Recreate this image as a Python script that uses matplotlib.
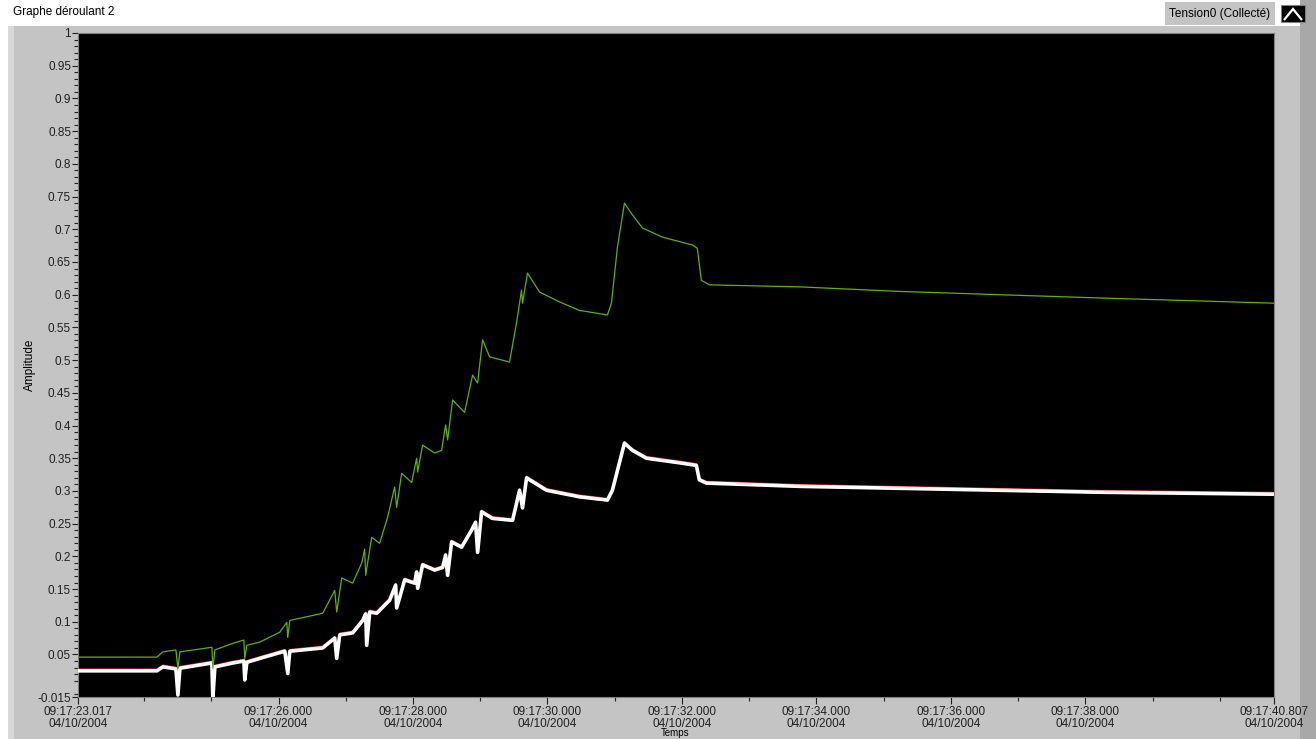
import matplotlib
matplotlib.use("Agg")
import matplotlib.pyplot as plt
import matplotlib.transforms as mtransforms
from matplotlib.patches import Rectangle, Polygon

plt.rcParams['font.family'] = ['Liberation Sans', 'DejaVu Sans']

# temps en secondes depuis 09:17:23.017
t_debut = 23.017
t_fin = 40.807

vert_t = [0.000, 1.174, 1.263, 1.456, 1.486, 1.516, 1.991, 2.006, 2.036, 2.303,
          2.467, 2.481, 2.511, 2.704, 3.001, 3.106, 3.120, 3.150, 3.640, 3.819,
          3.848, 3.923, 4.086, 4.220, 4.264, 4.279, 4.368, 4.487, 4.606, 4.710,
          4.740, 4.814, 4.963, 5.037, 5.052, 5.126, 5.305, 5.409, 5.468, 5.498,
          5.572, 5.750, 5.869, 5.944, 6.018, 6.122, 6.419, 6.523, 6.597, 6.612,
          6.686, 6.865, 7.162, 7.459, 7.875, 7.935, 8.024, 8.128, 8.247, 8.395,
          8.692, 9.138, 9.212, 9.272, 9.391, 10.728, 12.214, 13.700, 15.186, 17.790]
vert_v = [0.046, 0.046, 0.054, 0.057, 0.029, 0.054, 0.061, 0.029, 0.057, 0.067,
          0.072, 0.044, 0.064, 0.069, 0.084, 0.099, 0.076, 0.102, 0.113, 0.148,
          0.115, 0.167, 0.159, 0.190, 0.211, 0.171, 0.229, 0.220, 0.260, 0.306,
          0.275, 0.327, 0.313, 0.350, 0.329, 0.370, 0.358, 0.362, 0.401, 0.378,
          0.439, 0.420, 0.477, 0.465, 0.531, 0.505, 0.497, 0.557, 0.607, 0.587,
          0.633, 0.604, 0.589, 0.576, 0.569, 0.587, 0.673, 0.740, 0.722, 0.702,
          0.688, 0.676, 0.671, 0.622, 0.615, 0.612, 0.605, 0.600, 0.595, 0.587]

blanc_t = [0.000, 1.174, 1.263, 1.456, 1.486, 1.516, 1.813, 1.991, 2.006, 2.036,
           2.303, 2.467, 2.481, 2.511, 2.704, 3.076, 3.120, 3.150, 3.640, 3.819,
           3.848, 3.893, 4.086, 4.235, 4.279, 4.294, 4.339, 4.443, 4.636, 4.725,
           4.740, 4.859, 5.007, 5.037, 5.052, 5.126, 5.305, 5.424, 5.468, 5.498,
           5.557, 5.706, 5.854, 5.914, 5.944, 6.003, 6.166, 6.464, 6.568, 6.612,
           6.672, 6.969, 7.459, 7.875, 7.949, 8.128, 8.247, 8.455, 8.945, 9.198,
           9.242, 9.346, 10.728, 12.214, 13.700, 15.186, 17.790]
blanc_v = [0.025, 0.025, 0.031, 0.028, -0.012, 0.029, 0.034, 0.037, -0.017, 0.031,
           0.037, 0.040, 0.011, 0.038, 0.044, 0.055, 0.021, 0.055, 0.060, 0.075,
           0.044, 0.080, 0.083, 0.102, 0.112, 0.064, 0.115, 0.113, 0.133, 0.156,
           0.121, 0.164, 0.159, 0.176, 0.151, 0.187, 0.179, 0.183, 0.202, 0.171,
           0.222, 0.214, 0.240, 0.252, 0.206, 0.268, 0.258, 0.255, 0.301, 0.274,
           0.320, 0.301, 0.291, 0.286, 0.301, 0.373, 0.362, 0.350, 0.343, 0.339,
           0.317, 0.312, 0.307, 0.304, 0.301, 0.298, 0.295]

# la voie rouge suit la blanche de très près
rouge_t = blanc_t
rouge_v = blanc_v

y_ticks = [-0.015, 0.05, 0.1, 0.15, 0.2, 0.25, 0.3, 0.35, 0.4, 0.45, 0.5,
           0.55, 0.6, 0.65, 0.7, 0.75, 0.8, 0.85, 0.9, 0.95, 1]
y_labels = ['-0.015', '0.05', '0.1', '0.15', '0.2', '0.25', '0.3', '0.35', '0.4',
            '0.45', '0.5', '0.55', '0.6', '0.65', '0.7', '0.75', '0.8', '0.85',
            '0.9', '0.95', '1']
x_ticks = [23.017, 26, 28, 30, 32, 34, 36, 38, 40.807]
x_labels = ['09:17:23.017', '09:17:26.000', '09:17:28.000', '09:17:30.000',
            '09:17:32.000', '09:17:34.000', '09:17:36.000', '09:17:38.000',
            '09:17:40.807']
date_txt = '04/10/2004'

fig = plt.figure(figsize=(13.16, 7.39), dpi=100)
fig.patch.set_facecolor('white')

def fond(x, y, w, h, couleur, z=-10, **kw):
    # rectangle en pixels depuis le coin haut-gauche
    fig.patches.append(Rectangle((x / 1316, 1 - (y + h) / 739), w / 1316, h / 739,
                                 transform=fig.transFigure, facecolor=couleur,
                                 zorder=z, **kw))

# panneau gris façon LabVIEW
fond(8, 26, 1292, 713, '#c4c4c4', edgecolor='none')
fond(8, 26, 6, 713, '#d8d8d8', edgecolor='none')
fond(1300, 0, 16, 739, '#a8a8a8', edgecolor='none')
fig.text(13/1316, 1 - 12/739, 'Graphe déroulant 2', fontsize=8.5, va='center', ha='left')

# légende en haut à droite
fond(1165, 2, 110, 23, '#c4c4c4', edgecolor='none')
fig.text(1220/1316, 1 - 14/739, 'Tension0 (Collecté)', fontsize=8.5, va='center', ha='center')
fond(1281, 5, 24, 17, 'black', z=1, edgecolor='#808080', lw=0.8)
fig.patches.append(Polygon([(1284/1316, 1 - 20/739), (1293/1316, 1 - 9/739), (1302/1316, 1 - 20/739)],
                           closed=False, fill=False, edgecolor='white', lw=1.6,
                           transform=fig.transFigure, zorder=2))

ax = fig.add_axes([78/1316, 1 - 697/739, 1196/1316, 664/739])
ax.set_facecolor('black')

red_tr = mtransforms.offset_copy(ax.transData, fig=fig, x=0, y=1.2, units='points')
ax.plot([t_debut + v for v in rouge_t], rouge_v, color='#e0302a', lw=1.0,
        transform=red_tr, zorder=2)
ax.plot([t_debut + v for v in blanc_t], blanc_v, color='white', lw=2.6, zorder=3)
ax.plot([t_debut + v for v in vert_t], vert_v, color='#62b000', lw=0.9, zorder=4)

ax.set_xlim(t_debut, t_fin)
ax.set_ylim(-0.015, 1)
ax.set_yticks(y_ticks)
ax.set_yticklabels(y_labels)
ax.set_yticks([i / 100 for i in range(-1, 101) if i % 5 != 0], minor=True)
ax.set_xticks(x_ticks)
ax.set_xticklabels([f'{l}\n{date_txt}' for l in x_labels])
ax.set_xticks([24, 25, 27, 29, 31, 33, 35, 37, 39, 40], minor=True)

ax.tick_params(axis='y', which='major', length=4, width=0.8, colors='#202020',
               labelsize=8.5, pad=1)
ax.tick_params(axis='y', which='minor', length=3, width=0.8, colors='#202020')
ax.tick_params(axis='x', which='major', length=5, width=0.8, colors='#202020',
               labelsize=8.5, pad=1.5)
ax.tick_params(axis='x', which='minor', length=3, width=0.8, colors='#202020')
for lab in ax.get_xticklabels():
    lab.set_linespacing(1.0)

for s in ax.spines.values():
    s.set_color('#808080')
    s.set_linewidth(0.8)

fig.text(30/1316, 1 - 365/739, 'Amplitude', rotation=90, fontsize=8.5,
         va='center', ha='center')
# titre de l'axe du temps, à moitié caché en bas comme sur la capture
fig.text(675/1316, 0.5/739, 'Temps', fontsize=7, va='bottom', ha='center')

fig.savefig('out.png', dpi=100, facecolor=fig.get_facecolor())
